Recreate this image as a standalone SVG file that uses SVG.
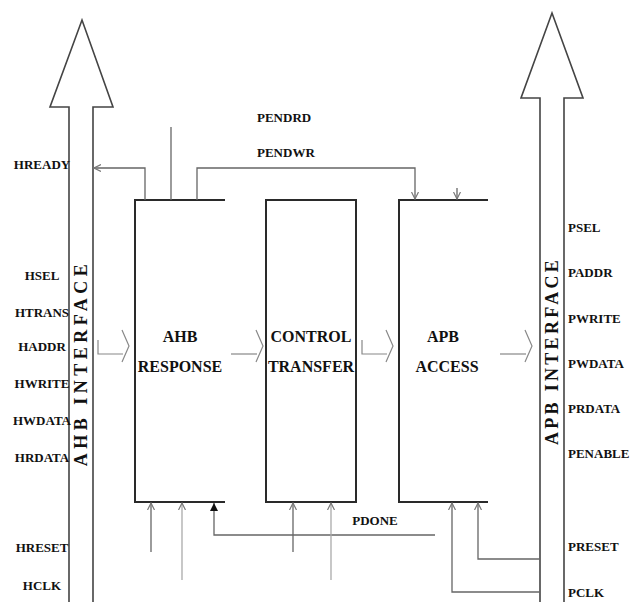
<svg xmlns="http://www.w3.org/2000/svg" width="630" height="602" viewBox="0 0 630 602">
<style>
.lbl{font-family:"Liberation Serif","Times New Roman",serif;font-weight:bold;font-size:13px;fill:#111}
.blk{font-family:"Liberation Serif","Times New Roman",serif;font-weight:bold;font-size:16px;fill:#111;text-anchor:middle}
.vert{font-family:"Liberation Serif","Times New Roman",serif;font-weight:bold;font-size:18px;fill:#111;text-anchor:middle}
.box{fill:none;stroke:#2a2a2a;stroke-width:2}
.big{fill:#fff;stroke:#444;stroke-width:1.6}
.con{fill:none;stroke:#666;stroke-width:1.3}
.lt{fill:none;stroke:#aaa;stroke-width:1.3}
.chev{fill:none;stroke:#888;stroke-width:1.2}
</style>
<defs>
<marker id="oa" markerWidth="8" markerHeight="8" refX="7" refY="4" orient="auto" markerUnits="userSpaceOnUse">
<path d="M0,0.5 L7,4 L0,7.5" fill="none" stroke="#777" stroke-width="1.2"/>
</marker>
<marker id="fa" markerWidth="9" markerHeight="9" refX="8" refY="4.5" orient="auto" markerUnits="userSpaceOnUse">
<path d="M0,0.5 L8,4.5 L0,8.5 Z" fill="#111"/>
</marker>
</defs>
<rect width="630" height="602" fill="#fff"/>

<g id="ahb-interface">
<polygon class="big" points="69,606 69,107 50,107 82,20 113,107 93,107 93,606"/>
<text class="vert" transform="translate(87,363) rotate(-90)" letter-spacing="4.5">AHB INTERFACE</text>
</g>
<g id="apb-interface">
<polygon class="big" points="540,606 540,98 521,98 552,13 583,98 564,98 564,606"/>
<text class="vert" transform="translate(558,351) rotate(-90)" letter-spacing="3.3">APB INTERFACE</text>
</g>

<g id="ahb-response">
<path class="box" d="M225,200 H135 V502 H225"/>
<text class="blk" x="180" y="342">AHB</text>
<text class="blk" x="180" y="372">RESPONSE</text>
</g>
<g id="control-transfer">
<rect class="box" x="266" y="200" width="90" height="302"/>
<text class="blk" x="311" y="342">CONTROL</text>
<text class="blk" x="311" y="372">TRANSFER</text>
</g>
<g id="apb-access">
<path class="box" d="M488,200 H399 V502 H488"/>
<text class="blk" x="443" y="342">APB</text>
<text class="blk" x="447" y="372">ACCESS</text>
</g>

<g id="labels">
<text class="lbl" x="42" y="169" text-anchor="middle">HREADY</text>
<text class="lbl" x="42" y="280" text-anchor="middle">HSEL</text>
<text class="lbl" x="42" y="317" text-anchor="middle">HTRANS</text>
<text class="lbl" x="42" y="351" text-anchor="middle">HADDR</text>
<text class="lbl" x="42" y="388" text-anchor="middle">HWRITE</text>
<text class="lbl" x="42" y="425" text-anchor="middle">HWDATA</text>
<text class="lbl" x="42" y="462" text-anchor="middle">HRDATA</text>
<text class="lbl" x="42" y="552" text-anchor="middle">HRESET</text>
<text class="lbl" x="42" y="590" text-anchor="middle">HCLK</text>
<text class="lbl" x="568" y="232">PSEL</text>
<text class="lbl" x="568" y="277">PADDR</text>
<text class="lbl" x="568" y="323">PWRITE</text>
<text class="lbl" x="568" y="368">PWDATA</text>
<text class="lbl" x="568" y="413">PRDATA</text>
<text class="lbl" x="568" y="458">PENABLE</text>
<text class="lbl" x="568" y="551">PRESET</text>
<text class="lbl" x="568" y="597">PCLK</text>
<text class="lbl" x="257" y="122">PENDRD</text>
<text class="lbl" x="257" y="157">PENDWR</text>
<text class="lbl" x="375" y="525" text-anchor="middle">PDONE</text>
</g>

<g id="connectors">
<path class="con" d="M145,200 V168 H94" marker-end="url(#oa)"/>
<path class="con" d="M171,127 V200"/>
<path class="con" d="M197,200 V168 H415 V199" marker-end="url(#oa)"/>
<path class="con" d="M457,188 V199" marker-end="url(#oa)"/>

<path class="chev" d="M98,340 V354 H123"/>
<path class="chev" d="M122,330 L129,346 L122,362"/>
<path class="chev" d="M231,354 H257"/>
<path class="chev" d="M256,330 L263,346 L256,362"/>
<path class="chev" d="M362,340 V354 H387"/>
<path class="chev" d="M386,330 L393,346 L386,362"/>
<path class="chev" d="M500,354 H526"/>
<path class="chev" d="M525,330 L532,346 L525,362"/>

<path class="con" d="M151,552 V503" marker-end="url(#oa)"/>
<path class="lt" d="M182,580 V503" marker-end="url(#oa)"/>
<path class="con" d="M435,535 H214 V503" marker-end="url(#fa)"/>
<path class="con" d="M293,552 V503" marker-end="url(#oa)"/>
<path class="lt" d="M331,580 V503" marker-end="url(#oa)"/>
<path class="con" d="M540,592 H452 V503" stroke="#444" marker-end="url(#oa)"/>
<path class="con" d="M540,559 H478 V503" stroke="#444" marker-end="url(#oa)"/>
</g>
</svg>
